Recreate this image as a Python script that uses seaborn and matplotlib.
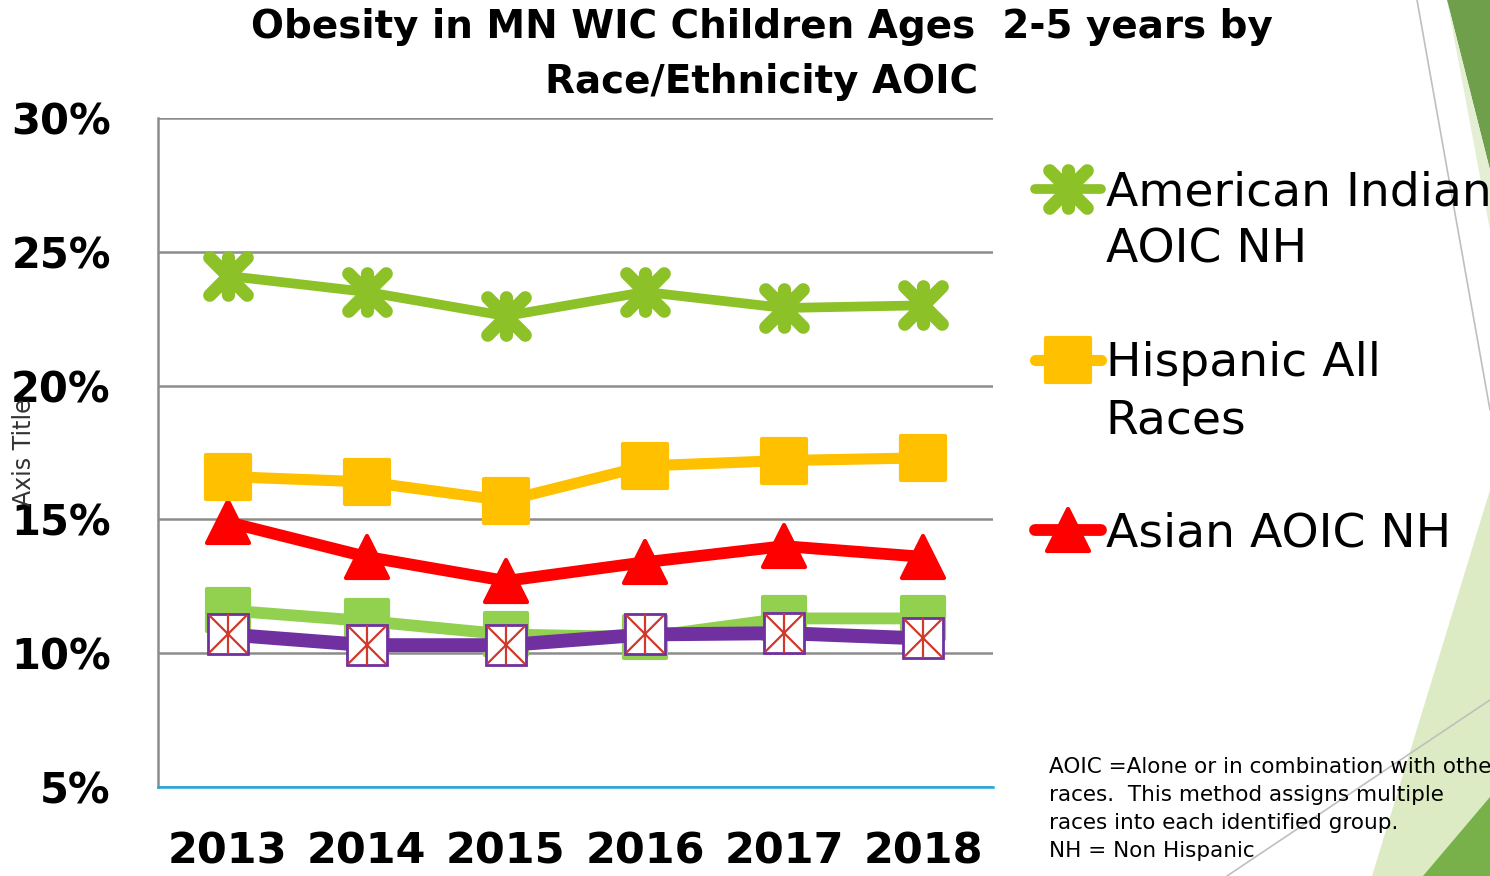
import matplotlib
matplotlib.use("Agg")
import matplotlib.pyplot as plt
from matplotlib.lines import Line2D
from matplotlib.markers import MarkerStyle
from matplotlib.patches import Polygon
from matplotlib.path import Path
import seaborn as sns

# data (percent)
years = ["2013", "2014", "2015", "2016", "2017", "2018"]
american_indian = [24.1, 23.5, 22.6, 23.5, 22.9, 23.0]
hispanic = [16.6, 16.4, 15.7, 17.0, 17.2, 17.3]
asian = [14.9, 13.6, 12.7, 13.4, 14.0, 13.6]
green_series = [11.6, 11.2, 10.7, 10.6, 11.3, 11.3]
purple_series = [10.7, 10.3, 10.3, 10.7, 10.75, 10.55]
y_ticks = [5, 10, 15, 20, 25, 30]
legend_labels = ["American Indian", "AOIC NH", " ", "Hispanic All", "Races", " ", "Asian AOIC NH"]

sns.set_theme(style="white")
plt.rcParams["font.family"] = ["DejaVu Sans"]
plt.rcParams["text.color"] = "black"

W, H = 1490, 876


def px(x, y):
    return (x / W, 1 - y / H)


fig = plt.figure(figsize=(14.9, 8.76), dpi=100)
ax = fig.add_axes([158 / W, 1 - 787 / H, (993 - 158) / W, (787 - 118) / H])

# asterisk: an X plus a vertical bar
star_path = Path([(-1, -1), (1, 1), (-1, 1), (1, -1), (0, -1), (0, 1)],
                 [Path.MOVETO, Path.LINETO, Path.MOVETO, Path.LINETO, Path.MOVETO, Path.LINETO])
star = MarkerStyle(star_path, capstyle="round")
sq = MarkerStyle("s", joinstyle="round")
tri = MarkerStyle("^", joinstyle="round")

ai_kw = dict(color="#8DC128", lw=7, marker=star, ms=27, mew=9.5, mec="#8DC128", mfc="none")
hi_kw = dict(color="#FFC000", lw=8, marker=sq, ms=32, mew=3, mec="#FFC000", mfc="#FFC000")
as_kw = dict(color="#FF0000", lw=8.5, marker=tri, ms=30, mew=3, mec="#FF0000", mfc="#FF0000")

sns.lineplot(x=years, y=green_series, ax=ax, color="#92D050", lw=8.5,
             marker=sq, ms=30, mew=3, mec="#92D050", mfc="#92D050")
sns.lineplot(x=years, y=purple_series, ax=ax, color="#7030A0", lw=10,
             marker="s", ms=29, mew=2, mec="#7030A0", mfc="white")
ax.plot(years, purple_series, ls="none", marker="x", ms=28, mew=1.6, mec="#D0392B")
ax.plot(years, purple_series, ls="none", marker="|", ms=29, mew=1.6, mec="#D0392B")
sns.lineplot(x=years, y=asian, ax=ax, **as_kw)
sns.lineplot(x=years, y=hispanic, ax=ax, **hi_kw)
sns.lineplot(x=years, y=american_indian, ax=ax, **ai_kw)

ax.set_xlim(-0.5, 5.5)
ax.set_ylim(5, 30)
ax.set_yticks(y_ticks, [f"{v}%" for v in y_ticks], fontsize=30, fontweight="bold")
ax.set_xticks(range(len(years)), years, fontsize=31, fontweight="bold")
ax.tick_params(axis="y", pad=34, length=0, colors="black")
ax.tick_params(axis="x", pad=31, length=0, colors="black")
ax.yaxis.grid(True, color="#8C8C8C", lw=1.8)
ax.xaxis.grid(False)
ax.set_xlabel("")
ax.set_ylabel("Axis Title", fontsize=17, color="#333333")
ax.yaxis.set_label_coords(-0.146, 0.5)
for s in ["top", "right"]:
    ax.spines[s].set_visible(False)
ax.spines["left"].set_color("#8C8C8C")
ax.spines["left"].set_linewidth(1.8)
ax.spines["bottom"].set_color("#1CA9E1")
ax.spines["bottom"].set_linewidth(1.8)

fig.text(*px(762, 8), "Obesity in MN WIC Children Ages  2-5 years by\nRace/Ethnicity AOIC",
         ha="center", va="top", fontsize=28, fontweight="bold", linespacing=1.58)

handles = [Line2D([], [], **ai_kw), Line2D([], [], color="none"), Line2D([], [], color="none"),
           Line2D([], [], **hi_kw), Line2D([], [], color="none"), Line2D([], [], color="none"),
           Line2D([], [], **as_kw)]
fig.legend(handles, legend_labels, loc="upper left", bbox_to_anchor=px(1035, 171),
           frameon=False, fontsize=34, handlelength=1.4, handletextpad=0.1,
           labelspacing=0.25, borderpad=0, borderaxespad=0, labelcolor="black")

fig.text(*px(1049, 757), "AOIC =Alone or in combination with other\nraces.  This method assigns multiple\n"
         "races into each identified group.\nNH = Non Hispanic",
         ha="left", va="top", fontsize=15.5, linespacing=1.5)

# slide decoration on the right edge
deco = [
    ([(1447, 0), (1490, 0), (1490, 170)], "#6F9F4A"),
    ([(1447, 0), (1490, 170), (1490, 230)], "#E3EED3"),
    ([(1490, 490), (1490, 876), (1372, 876)], "#DDEBC4"),
    ([(1490, 797), (1490, 876), (1423, 876)], "#78B14A"),
]
for pts, c in deco:
    fig.add_artist(Polygon([px(*p) for p in pts], closed=True, color=c, lw=0,
                           transform=fig.transFigure, zorder=-1))
for (x0, y0), (x1, y1) in [((1417, 0), (1490, 410)), ((1227, 876), (1490, 700))]:
    a, b = px(x0, y0), px(x1, y1)
    fig.add_artist(Line2D([a[0], b[0]], [a[1], b[1]], color="#BFBFBF", lw=1.2,
                          transform=fig.transFigure, zorder=-1))

fig.savefig("out.png", dpi=100)
